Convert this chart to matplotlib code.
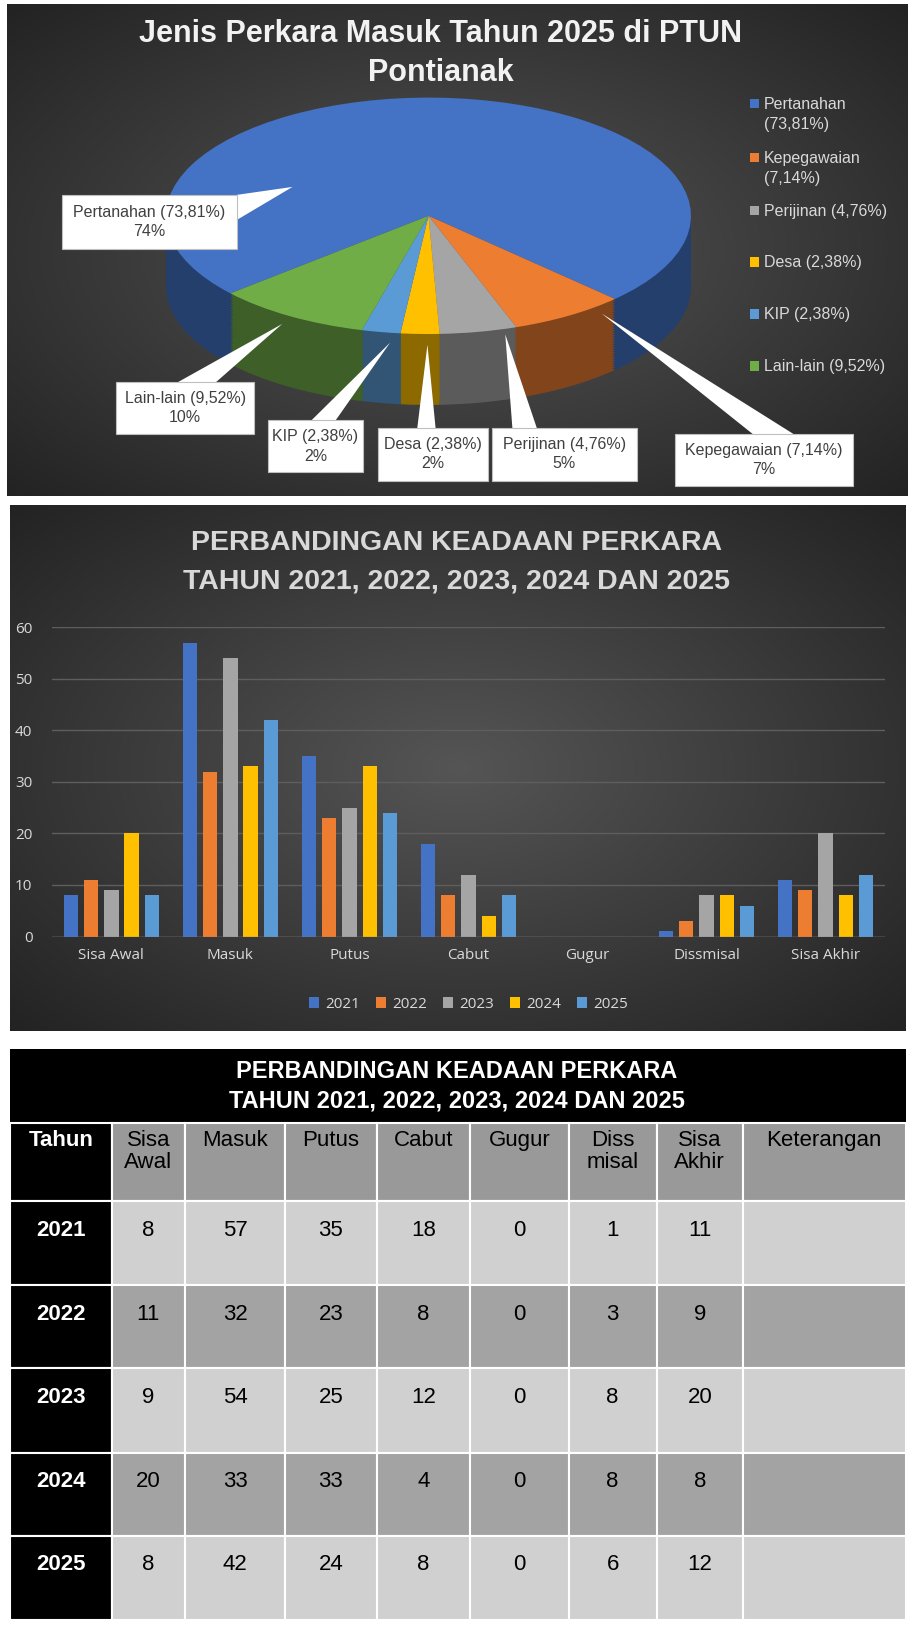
import numpy as np
import matplotlib.pyplot as plt
from matplotlib.patches import Rectangle, Polygon
from matplotlib.colors import to_rgb

# --- data ---
pie_labels = ['Pertanahan', 'Kepegawaian', 'Perijinan', 'Desa', 'KIP', 'Lain-lain']
pie_pct = ['73,81%', '7,14%', '4,76%', '2,38%', '2,38%', '9,52%']
pie_counts = [31, 3, 2, 1, 1, 4]
pie_colors = ['#4472C4', '#ED7D31', '#A5A5A5', '#FFC000', '#5B9BD5', '#70AD47']

categories = ['Sisa Awal', 'Masuk', 'Putus', 'Cabut', 'Gugur', 'Dissmisal', 'Sisa Akhir']
years = ['2021', '2022', '2023', '2024', '2025']
year_colors = ['#4472C4', '#ED7D31', '#A5A5A5', '#FFC000', '#5B9BD5']
values = {
    '2021': [8, 57, 35, 18, 0, 1, 11],
    '2022': [11, 32, 23, 8, 0, 3, 9],
    '2023': [9, 54, 25, 12, 0, 8, 20],
    '2024': [20, 33, 33, 4, 0, 8, 8],
    '2025': [8, 42, 24, 8, 0, 6, 12],
}
table_headers = ['Tahun', 'Sisa\nAwal', 'Masuk', 'Putus', 'Cabut', 'Gugur', 'Diss\nmisal', 'Sisa\nAkhir', 'Keterangan']

W, H = 880.0, 1568.0
fig = plt.figure(figsize=(9.13, 16.28), dpi=100)
fig.patch.set_facecolor('white')


def fa(x0, y0, x1, y1):
    return [x0 / W, 1 - y1 / H, (x1 - x0) / W, (y1 - y0) / H]


narrow = ['Liberation Sans Narrow', 'Liberation Sans', 'DejaVu Sans']

# background layer
bg = fig.add_axes([0, 0, 1, 1], zorder=0)
bg.set_xlim(0, W)
bg.set_ylim(H, 0)
bg.axis('off')


def gradient(x0, y0, x1, y1):
    yy, xx = np.mgrid[-1:1:200j, -1:1:200j]
    r = np.clip(np.sqrt(xx ** 2 + yy ** 2) / 1.41, 0, 1)
    c0, c1 = np.array(to_rgb('#555555')), np.array(to_rgb('#232323'))
    img = c0 + (c1 - c0) * r[..., None]
    bg.imshow(img, extent=(x0, x1, y1, y0), aspect='auto', zorder=0)


gradient(7, 5, 875, 478)
gradient(10, 487, 873, 993)

# --- pie chart ---
fig.text(425 / W, 1 - 33 / H, 'Jenis Perkara Masuk Tahun 2025 di PTUN', ha='center', va='center',
         fontsize=22, fontweight='bold', color='#F2F2F2', family='Liberation Sans')
fig.text(425 / W, 1 - 70 / H, 'Pontianak', ha='center', va='center',
         fontsize=22, fontweight='bold', color='#F2F2F2', family='Liberation Sans')

ax_pie = fig.add_axes(fa(160, 94, 666, 390), zorder=1)
depth = 0.6
dark = [tuple(np.array(to_rgb(c)) * 0.55) for c in pie_colors]
for k in np.linspace(-depth, 0, 30)[:-1]:
    ax_pie.pie(pie_counts, colors=dark, startangle=221, counterclock=False, center=(0, k),
               wedgeprops={'linewidth': 0})
ax_pie.pie(pie_counts, colors=pie_colors, startangle=221, counterclock=False, center=(0, 0),
           wedgeprops={'linewidth': 0})
ax_pie.set_aspect('auto')
ax_pie.set_xlim(-1, 1)
ax_pie.set_ylim(-1 - depth, 1)
ax_pie.axis('off')

# callouts on top
top = fig.add_axes([0, 0, 1, 1], zorder=3)
top.set_xlim(0, W)
top.set_ylim(H, 0)
top.axis('off')
top.patch.set_alpha(0)

callouts = [
    # box (x0, y0, x1, y1), triangle base pts, tip
    ((60, 188, 228, 240), [(212, 190), (228, 212)], (282, 180)),
    ((651, 418, 822, 468), [(728, 420), (768, 420)], (580, 302)),
    ((474, 412, 614, 463), [(494, 414), (518, 414)], (487, 322)),
    ((364, 412, 470, 463), [(402, 414), (420, 414)], (412, 332)),
    ((258, 405, 350, 455), [(298, 407), (322, 407)], (376, 330)),
    ((112, 368, 245, 418), [(168, 370), (206, 370)], (272, 312)),
]
for i, (box, base, tip) in enumerate(callouts):
    x0, y0, x1, y1 = box
    top.add_patch(Polygon([base[0], base[1], tip], closed=True, fc='white', ec='none', zorder=4))
    top.add_patch(Rectangle((x0, y0), x1 - x0, y1 - y0, fc='white', ec='#BFBFBF', lw=0.8, zorder=5))
    pct = round(pie_counts[i] / sum(pie_counts) * 100)
    top.text((x0 + x1) / 2, (y0 + y1) / 2, f'{pie_labels[i]} ({pie_pct[i]})\n{pct}%',
             ha='center', va='center', fontsize=11.5, color='#404040', family=narrow,
             linespacing=1.35, zorder=6)

leg_y = [100, 152, 203, 253, 303, 353]
for i, lab in enumerate(pie_labels):
    top.add_patch(Rectangle((723, leg_y[i] - 5), 9, 9, fc=pie_colors[i], ec='none'))
    txt = f'{lab} ({pie_pct[i]})'
    if i < 2:
        txt = f'{lab}\n({pie_pct[i]})'
    top.text(736, leg_y[i] - 7, txt, ha='left', va='top', fontsize=11.5, color='#D9D9D9',
             family=narrow, linespacing=1.45)

# --- bar chart ---
fig.text(440 / W, 1 - 523 / H, 'PERBANDINGAN KEADAAN PERKARA', ha='center', va='center',
         fontsize=20.5, fontweight='bold', color='#D9D9D9', family='Liberation Sans')
fig.text(440 / W, 1 - 560 / H, 'TAHUN 2021, 2022, 2023, 2024 DAN 2025', ha='center', va='center',
         fontsize=20.5, fontweight='bold', color='#D9D9D9', family='Liberation Sans')

ax = fig.add_axes(fa(50, 604, 853, 902), zorder=1)
ax.patch.set_alpha(0)
x = np.arange(len(categories))
step, bw = 0.17, 0.12
for j, yr in enumerate(years):
    ax.bar(x + (j - 2) * step, values[yr], width=bw, color=year_colors[j], label=yr, zorder=3)
ax.set_ylim(0, 60)
ax.set_xlim(-0.5, len(categories) - 0.5)
ax.set_yticks(range(0, 61, 10))
ax.set_xticks(x)
ax.set_xticklabels(categories)
ax.grid(axis='y', color='#5E5E5E', lw=1, zorder=0)
for s in ax.spines.values():
    s.set_visible(False)
ax.axhline(0, color='#7F7F7F', lw=1, zorder=4)
ax.tick_params(length=0, colors='#D9D9D9', labelsize=11)
ax.tick_params(axis='x', pad=8)
ax.tick_params(axis='y', pad=14)
for t in ax.get_xticklabels() + ax.get_yticklabels():
    t.set_family('Open Sans')
leg = ax.legend(loc='center', bbox_to_anchor=(0.5, -0.22), ncol=5, frameon=False,
                handlelength=0.7, handleheight=0.7, columnspacing=1.0,
                handletextpad=0.4, labelcolor='#D9D9D9', prop={'family': 'Open Sans', 'size': 11})

# --- table ---
bg.add_patch(Rectangle((10, 1010), 863, 72, fc='black', ec='none'))
bg.text(440, 1032, 'PERBANDINGAN KEADAAN PERKARA', ha='center', va='center', fontsize=17,
        fontweight='bold', color='white', family=narrow)
bg.text(440, 1060, 'TAHUN 2021, 2022, 2023, 2024 DAN 2025', ha='center', va='center', fontsize=17,
        fontweight='bold', color='white', family=narrow)

col_x = [10, 108, 178, 275, 363, 453, 548, 633, 716, 873]
row_y = [1082, 1157, 1238, 1318, 1399, 1479, 1560]
row_fill = ['#999999', '#D0D0D0', '#A3A3A3', '#D0D0D0', '#A3A3A3', '#D0D0D0']
for r in range(6):
    for c in range(9):
        fc = 'black' if c == 0 else row_fill[r]
        bg.add_patch(Rectangle((col_x[c], row_y[r]), col_x[c + 1] - col_x[c], row_y[r + 1] - row_y[r],
                               fc=fc, ec='white', lw=1.5))
for c, h in enumerate(table_headers):
    cx = (col_x[c] + col_x[c + 1]) / 2
    bg.text(cx, 1088, h, ha='center', va='top', fontsize=16, color='white' if c == 0 else 'black',
            fontweight='bold' if c == 0 else 'normal', family=narrow, linespacing=1.1)
for r, yr in enumerate(years):
    ty = row_y[r + 1] + 28
    bg.text((col_x[0] + col_x[1]) / 2, ty, yr, ha='center', va='center', fontsize=16,
            fontweight='bold', color='white', family='Liberation Sans')
    for c in range(7):
        cx = (col_x[c + 1] + col_x[c + 2]) / 2
        bg.text(cx, ty, str(values[yr][c]), ha='center', va='center', fontsize=16, color='black',
                family='Liberation Sans')

fig.savefig('out.png', dpi=100)
